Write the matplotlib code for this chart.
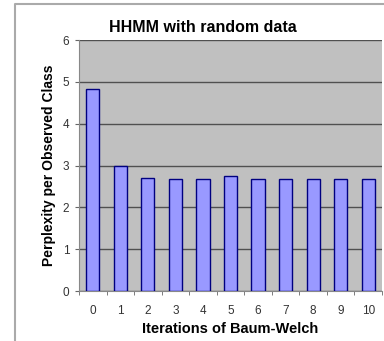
#%%### Imports
import numpy as np
import matplotlib as mpl
import matplotlib.pyplot as plt

#%%### Data
iterations = ['0', '1', '2', '3', '4', '5', '6', '7', '8', '9', '10']
perplexity = [4.82, 2.98, 2.70, 2.67, 2.67, 2.75, 2.67, 2.67, 2.67, 2.67, 2.67]
yticks = [0, 1, 2, 3, 4, 5, 6]

#%%### Plot
plt.rcParams['font.family'] = ['Liberation Sans', 'DejaVu Sans']
W, H = 384, 341
f = plt.figure(figsize=(W/100, H/100), dpi=100)
ax = f.add_axes([79/W, 1-291/H, 303/W, 251/H])

x = np.arange(len(iterations))
ax.set_facecolor('#c0c0c0')
ax.bar(x, perplexity, width=0.48, color='#9999ff', edgecolor='#000080', lw=1.0, zorder=3)

ax.set_xlim(-0.5, len(iterations)-0.5)
ax.set_ylim(0, 6)
ax.set_yticks(yticks)
ax.set_xticks(x)
ax.set_xticklabels(iterations)
ax.set_xticks(np.arange(-0.5, len(iterations)), minor=True)
ax.grid(axis='y', color='#505050', lw=1.0, zorder=1)
ax.tick_params(axis='x', which='major', length=0, labelsize=8.5, colors='#333333', pad=10)
ax.tick_params(axis='x', which='minor', length=3, color='#666666', direction='out')
ax.tick_params(axis='y', length=3, labelsize=8.5, colors='#333333', pad=4, color='#666666')
for s in ['top', 'right']:
    ax.spines[s].set_visible(False)
for s in ['left', 'bottom']:
    ax.spines[s].set_color('#888888')

ax.set_title('HHMM with random data', fontsize=11.5, fontweight='bold', pad=6, x=0.41)
ax.set_ylabel('Perplexity per Observed Class', fontsize=10, fontweight='bold', labelpad=5)
ax.set_xlabel('Iterations of Baum-Welch', fontsize=10.5, fontweight='bold', labelpad=4)

## Outer chart frame
f.add_artist(mpl.lines.Line2D([14.5/W, 14.5/W, 1], [0, 1-4/H, 1-4/H], color='#aaaaaa', lw=1.5))

plt.savefig('out.png', dpi=100)
